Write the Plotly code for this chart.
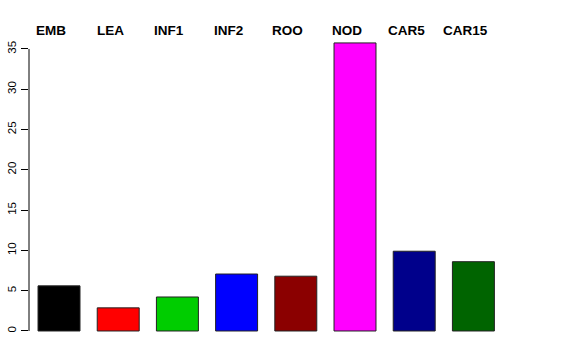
import plotly.graph_objects as go

categories = ["EMB", "LEA", "INF1", "INF2", "ROO", "NOD", "CAR5", "CAR15"]
values = [5.6, 2.87, 4.22, 7.07, 6.8, 35.75, 9.9, 8.6]
colors = ["#000000", "#FF0000", "#00CD00", "#0000FF", "#8B0000", "#FF00FF", "#00008B", "#006400"]
y_ticks = [0, 5, 10, 15, 20, 25, 30, 35]

fig = go.Figure()
fig.add_trace(go.Bar(
    x=list(range(len(categories))), y=values,
    marker=dict(color=colors, line=dict(color="#222222", width=1)),
    width=0.709, showlegend=False, hoverinfo="skip",
))

for i, c in enumerate(categories):
    fig.add_annotation(x=i - 0.135, y=1.003, xref="x", yref="paper", text=c,
                       showarrow=False, xanchor="center", yanchor="middle",
                       font=dict(family="Liberation Sans, Arial, sans-serif", size=13.5, color="black", weight="bold"))

fig.add_shape(type="line", xref="paper", yref="y", x0=0, x1=0, y0=0, y1=35,
              line=dict(color="black", width=1))

fig.update_layout(
    width=576, height=360,
    margin=dict(l=29, r=73, t=31, b=17, autoexpand=False),
    plot_bgcolor="white", paper_bgcolor="white",
    xaxis=dict(range=[-0.507, 7.5], showticklabels=False, showgrid=False, zeroline=False,
               showline=False, ticks="", automargin=False),
    yaxis=dict(range=[-1.49, 37.23], tickvals=y_ticks, ticktext=[str(v) for v in y_ticks],
               tickangle=-90, ticks="outside", ticklen=7, tickcolor="black", tickwidth=1,
               showgrid=False, zeroline=False, showline=False, automargin=False,
               tickfont=dict(family="Liberation Sans, Arial, sans-serif", size=11.5, color="black")),
)

fig.write_html("out.html")
